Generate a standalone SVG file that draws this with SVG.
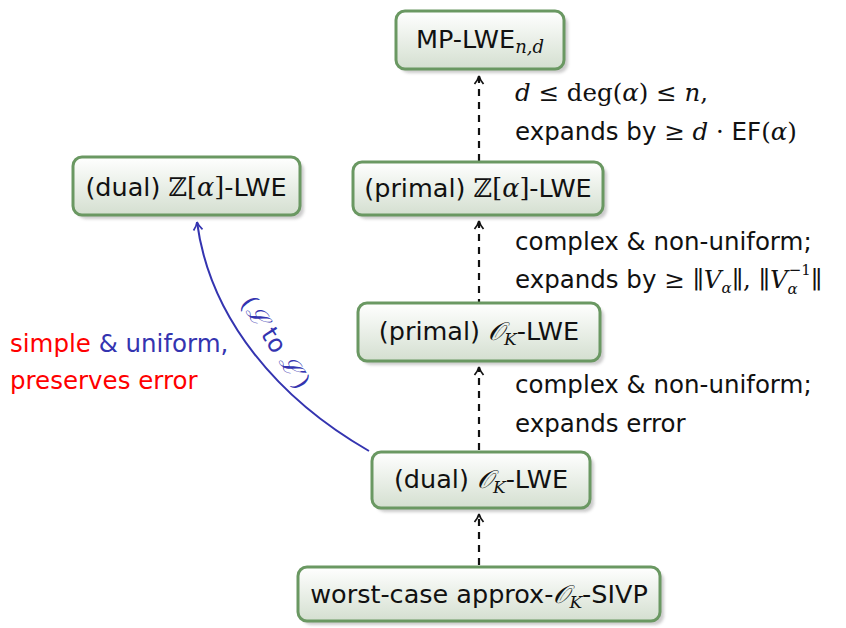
<svg xmlns="http://www.w3.org/2000/svg" width="846" height="628" viewBox="0 0 846 628">
  <style>
    .box { fill: url(#boxfill); stroke: #6a9862; stroke-width: 3; }
    .shadow { fill: #8c8c8c; opacity: 0.45; filter: url(#soft); }
    .lbl { font-family: "DejaVu Sans", "Liberation Sans", sans-serif; font-size: 25.5px; fill: #111; }
    .note { font-family: "DejaVu Sans", "Liberation Sans", sans-serif; font-size: 24.5px; fill: #111; }
    .m { font-family: "DejaVu Serif", "Liberation Serif", serif; font-style: italic; }
    .mr { font-family: "DejaVu Serif", "Liberation Serif", serif; font-style: normal; }
    .red { fill: #ff0000; }
    .blue { fill: #3434b0; }
    .dash { fill: none; stroke: #111; stroke-width: 2.2; stroke-dasharray: 7 6; }
    .curve { fill: none; stroke: #3434b0; stroke-width: 2; }
  </style>
  <defs>
    <linearGradient id="boxfill" x1="0" y1="0" x2="0" y2="1">
      <stop offset="0" stop-color="#ffffff"/>
      <stop offset="1" stop-color="#d4dfd0"/>
    </linearGradient>
    <filter id="soft" x="-10%" y="-20%" width="120%" height="140%">
      <feGaussianBlur stdDeviation="1.5"/>
    </filter>
    <marker id="tip" viewBox="0 0 12 12" refX="10" refY="6" markerWidth="12" markerHeight="12" markerUnits="userSpaceOnUse" orient="auto">
      <path d="M2,1.5 Q6,5 10,6 Q6,7 2,10.5" fill="none" stroke="#111" stroke-width="1.8"/>
    </marker>
    <marker id="tipblue" viewBox="0 0 12 12" refX="10" refY="6" markerWidth="12" markerHeight="12" markerUnits="userSpaceOnUse" orient="auto">
      <path d="M2,1.5 Q6,5 10,6 Q6,7 2,10.5" fill="none" stroke="#3434b0" stroke-width="1.8"/>
    </marker>
  </defs>

  <!-- connectors -->
  <g id="connectors">
    <line class="dash" x1="479" y1="161" x2="479" y2="76" marker-end="url(#tip)"/>
    <line class="dash" x1="479" y1="306" x2="479" y2="221" marker-end="url(#tip)"/>
    <line class="dash" x1="479" y1="450" x2="479" y2="367" marker-end="url(#tip)"/>
    <line class="dash" x1="479" y1="565" x2="479" y2="514" marker-end="url(#tip)"/>
    <path class="curve" d="M369,451 C280,400 210,320 197,222" marker-end="url(#tipblue)"/>
  </g>

  <!-- edge labels -->
  <g id="edge-labels">
    <text class="note" x="515" y="101"><tspan class="m">d</tspan><tspan class="mr"> ≤ deg(</tspan><tspan class="m">α</tspan><tspan class="mr">) ≤ </tspan><tspan class="m">n</tspan><tspan class="mr">,</tspan></text>
    <text class="note" x="515" y="140">expands by <tspan class="mr">≥ </tspan><tspan class="m">d</tspan><tspan class="mr"> · </tspan>EF<tspan class="mr">(</tspan><tspan class="m">α</tspan><tspan class="mr">)</tspan></text>

    <text class="note" x="515" y="250">complex &amp; non-uniform;</text>
    <text class="note" x="515" y="288">expands by <tspan class="mr">≥ ∥</tspan><tspan class="m">V</tspan><tspan class="m" font-size="15" dy="5">α</tspan><tspan class="mr" dy="-5">∥, ∥</tspan><tspan class="m">V</tspan><tspan class="m" font-size="15" dy="6">α</tspan><tspan class="mr" font-size="15" dx="-9" dy="-19">−1</tspan><tspan class="mr" dy="13">∥</tspan></text>

    <text class="note" x="515" y="393">complex &amp; non-uniform;</text>
    <text class="note" x="515" y="432">expands error</text>

    <text class="note" x="10" y="352"><tspan class="red">simple</tspan><tspan class="blue"> &amp; uniform,</tspan></text>
    <text class="note red" x="10" y="389">preserves error</text>

    <text class="note blue" font-size="22" transform="translate(240,303) rotate(57)"><tspan class="mr">(</tspan><tspan class="m">ℒ</tspan> to <tspan class="m">ℒ′</tspan><tspan class="mr">)</tspan></text>
  </g>

  <!-- nodes -->
  <g id="mp-lwe">
    <rect class="shadow" x="400" y="15" width="168" height="58" rx="9"/>
    <rect class="box" x="396" y="11" width="168" height="58" rx="9"/>
    <text class="lbl" x="480" y="48" text-anchor="middle">MP-LWE<tspan class="m" font-size="18" dy="5">n,d</tspan></text>
  </g>

  <g id="dual-z-lwe">
    <rect class="shadow" x="77" y="161" width="227" height="58" rx="9"/>
    <rect class="box" x="73" y="157" width="227" height="58" rx="9"/>
    <text class="lbl" x="186" y="196" text-anchor="middle">(dual) <tspan class="mr">ℤ[</tspan><tspan class="m">α</tspan><tspan class="mr">]</tspan>-LWE</text>
  </g>

  <g id="primal-z-lwe">
    <rect class="shadow" x="357" y="166" width="250" height="53" rx="9"/>
    <rect class="box" x="353" y="162" width="250" height="53" rx="9"/>
    <text class="lbl" x="478" y="197" text-anchor="middle">(primal) <tspan class="mr">ℤ[</tspan><tspan class="m">α</tspan><tspan class="mr">]</tspan>-LWE</text>
  </g>

  <g id="primal-ok-lwe">
    <rect class="shadow" x="362" y="307" width="242" height="58" rx="9"/>
    <rect class="box" x="358" y="303" width="242" height="58" rx="9"/>
    <text class="lbl" x="479" y="340" text-anchor="middle">(primal) <tspan class="m">𝒪</tspan><tspan class="m" font-size="17" dy="5">K</tspan><tspan dy="-5">-LWE</tspan></text>
  </g>

  <g id="dual-ok-lwe">
    <rect class="shadow" x="376" y="456" width="218" height="56" rx="9"/>
    <rect class="box" x="372" y="452" width="218" height="56" rx="9"/>
    <text class="lbl" x="481" y="488" text-anchor="middle">(dual) <tspan class="m">𝒪</tspan><tspan class="m" font-size="17" dy="5">K</tspan><tspan dy="-5">-LWE</tspan></text>
  </g>

  <g id="worst-case-sivp">
    <rect class="shadow" x="302" y="571" width="362" height="54" rx="9"/>
    <rect class="box" x="298" y="567" width="362" height="54" rx="9"/>
    <text class="lbl" x="479" y="603" text-anchor="middle">worst-case approx-<tspan class="m">𝒪</tspan><tspan class="m" font-size="17" dy="5">K</tspan><tspan dy="-5">-SIVP</tspan></text>
  </g>
</svg>
